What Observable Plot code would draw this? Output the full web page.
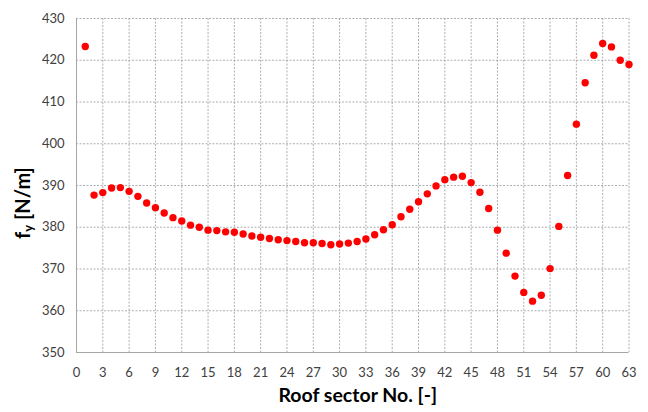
<!DOCTYPE html>
<html>
<head>
<meta charset="utf-8">
<script src="https://cdn.jsdelivr.net/npm/d3@7"></script>
<script src="https://cdn.jsdelivr.net/npm/@observablehq/plot@0.6"></script>
<style>
  html, body { margin: 0; padding: 0; background: #fff; }
  #chart { width: 648px; height: 412px; }
</style>
</head>
<body>
<div id="chart"></div>
<script>
const sectors = [1,2,3,4,5,6,7,8,9,10,11,12,13,14,15,16,17,18,19,20,21,22,23,24,25,26,27,28,29,30,31,32,33,34,35,36,37,38,39,40,41,42,43,44,45,46,47,48,49,50,51,52,53,54,55,56,57,58,59,60,61,62,63];
const fy = [423.3,387.7,388.3,389.4,389.5,388.6,387.4,385.8,384.7,383.4,382.3,381.5,380.5,380.0,379.3,379.2,378.9,378.8,378.4,377.9,377.6,377.3,377.0,376.8,376.6,376.3,376.3,376.1,375.8,376.0,376.2,376.6,377.2,378.2,379.4,380.6,382.5,384.3,386.1,388.0,389.9,391.4,392.0,392.2,390.7,388.4,384.5,379.3,373.8,368.3,364.4,362.3,363.7,370.1,380.2,392.4,404.7,414.6,421.2,424.0,423.2,420.0,419.0];
const xTicks = [0,3,6,9,12,15,18,21,24,27,30,33,36,39,42,45,48,51,54,57,60,63];
const yTicks = [350,360,370,380,390,400,410,420,430];
const xTitle = "Roof sector No. [-]";
const yTitleMain = "f";
const yTitleSub = "y";
const yTitleUnit = " [N/m]";

const data = sectors.map((s, i) => ({sector: s, fy: fy[i]}));
const gridStyle = {stroke: "#9a9a9a", strokeOpacity: 1, strokeWidth: 0.8, strokeDasharray: "2,1.5"};

const svg = Plot.plot({
  width: 648,
  height: 412,
  marginLeft: 76,
  marginRight: 19.5,
  marginTop: 18,
  marginBottom: 60,
  style: {fontFamily: "Lato, 'Liberation Sans', sans-serif", fontSize: "13px", color: "#404040", background: "#fff"},
  x: {domain: [0, 63], label: null},
  y: {domain: [350, 430], label: null},
  marks: [
    Plot.gridX(xTicks.filter(d => d > 0), gridStyle),
    Plot.gridY(yTicks.filter(d => d > 350), gridStyle),
    Plot.ruleX([0], {stroke: "#a6a6a6", strokeWidth: 1}),
    Plot.ruleY([350], {stroke: "#a6a6a6", strokeWidth: 1}),
    Plot.axisX(xTicks, {tickSize: 0, tickPadding: 15, fill: "#404040", fontSize: 13}),
    Plot.axisY(yTicks, {tickSize: 0, tickPadding: 12, fill: "#404040", fontSize: 13}),
    Plot.dot(data, {x: "sector", y: "fy", r: 3.7, fill: "#ff0000", stroke: "none"}),
    Plot.text([xTitle], {frameAnchor: "bottom", dy: 49, dx: 5, fontWeight: "bold", fontSize: 19.5, fill: "#000"})
  ]
});

const t = d3.select(svg).append("text")
  .attr("transform", "translate(25,203) rotate(-90)")
  .attr("text-anchor", "middle")
  .attr("dominant-baseline", "middle")
  .attr("font-family", "Lato, 'Liberation Sans', sans-serif")
  .attr("font-weight", "bold")
  .attr("font-size", 20)
  .attr("fill", "#000");
t.append("tspan").text(yTitleMain);
t.append("tspan").attr("font-size", 13).attr("dy", 5).text(yTitleSub);
t.append("tspan").attr("dy", -5).text(yTitleUnit);

document.getElementById("chart").appendChild(svg);
</script>
</body>
</html>
